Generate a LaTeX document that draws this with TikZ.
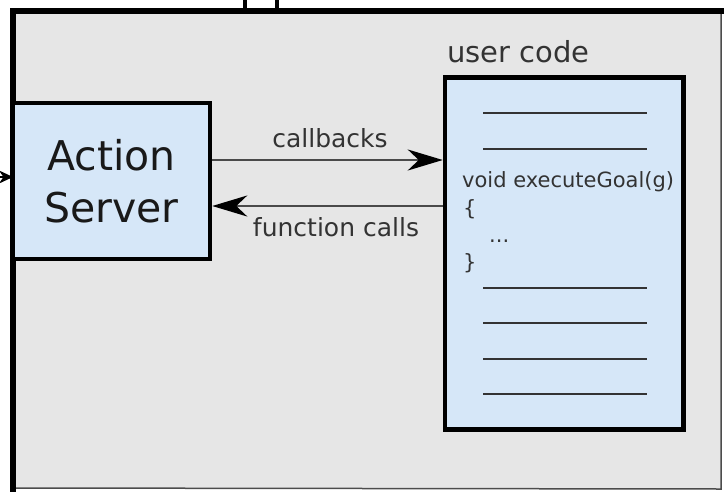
\documentclass[tikz,border=0pt]{standalone}
\usepackage{fontspec}
\setmainfont{DejaVu Sans}
\usetikzlibrary{arrows.meta}

\definecolor{framefill}{HTML}{E6E6E6}
\definecolor{boxfill}{HTML}{D6E7F8}
\definecolor{ink}{HTML}{333333}
\definecolor{wire}{HTML}{4A4A4A}

\tikzset{
  blockbox/.style={draw=black, line width=4.5pt, fill=boxfill, inner sep=0pt},
  flow/.style={draw=wire, line width=2.5pt,
    -{Stealth[length=35pt, width=21pt, inset=11pt, color=black]}},
  flowlabel/.style={text=ink, inner sep=0pt, anchor=base,
    font=\fontsize{25}{30}\selectfont},
  codetext/.style={text=ink, inner sep=0pt, anchor=base west,
    font=\fontsize{21}{27}\selectfont},
  codeline/.style={draw=ink, line width=2pt},
}

\begin{document}
\begin{tikzpicture}[x=1pt, y=-1pt]
  \useasboundingbox (0,0) rectangle (724,491);
  \clip (0,0) rectangle (724,491);

  % the application frame
  \node[fill=framefill, inner sep=0pt, outer sep=0pt,
        minimum width=708pt, minimum height=478pt] (frame) at (367,250) {};

  % request coming in from the left
  \coordinate (inflow) at (-30,177);
  \draw[black, line width=2pt, -{Stealth[length=14pt, width=13pt]}]
    (inflow) -- (inflow -| frame.west);

  % frame border: heavy on the left and top, thin on the right and bottom
  \draw[gray!60!black, line width=1.5pt]
    ([yshift=1pt]frame.south west) -- (frame.south east) -- ([yshift=-3pt]frame.north east);
  \draw[black, line width=6pt]
    ([yshift=-6pt]frame.south west) -- (frame.north west) -- ([xshift=6pt]frame.north east);

  % stems of the frame title above
  \fill[black] (242.7,0) rectangle (246.7,11);
  \fill[black] (274.7,0) rectangle (278.7,11);

  % action server block
  \node[blockbox, minimum width=197pt, minimum height=156pt, align=center,
        font=\fontsize{41}{52}\selectfont, text=black!90]
    (server) at (111.5,181) {Action\\Server};

  % user code block
  \node[blockbox, minimum width=238.5pt, minimum height=352pt]
    (code) at (564.25,253.5) {};
  \node[text=ink, inner sep=0pt, anchor=base west,
        font=\fontsize{29}{34}\selectfont]
    (codetitle) at (447,62) {user code};

  % lines of code around the callback
  \foreach \y in {113,149,288,323,359,394}
    \draw[codeline] (483,\y) -- (647,\y);

  \node[codetext] (sig)   at (462,187.5) {void executeGoal(g)};
  \node[codetext] (open)  at (463,215)   {\{};
  \node[codetext] (body)  at (489,242)   {...};
  \node[codetext] (close) at (463,269)   {\}};

  % calls between the server and the user code
  \draw[flow] ([yshift=21pt]server.east) coordinate (cbstart)
    -- (cbstart -| code.west);
  \draw[flow] ([yshift=47.5pt]code.west) coordinate (fcstart)
    -- (fcstart -| server.east);

  \node[flowlabel] (cblabel) at (330,147)   {callbacks};
  \node[flowlabel] (fclabel) at (336,236.7) {function calls};
\end{tikzpicture}
\end{document}
